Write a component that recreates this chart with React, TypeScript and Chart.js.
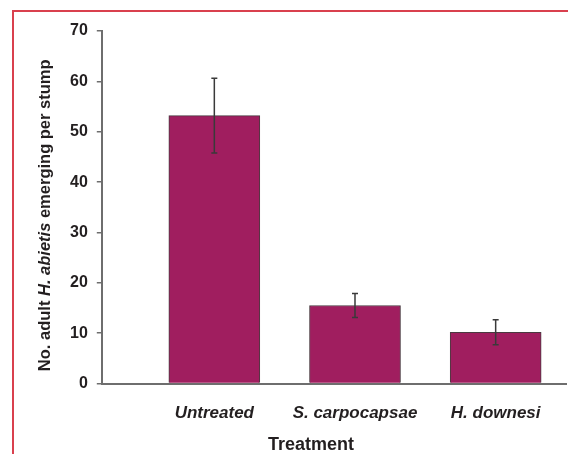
import React, { useEffect, useRef } from "react";
import { Chart, registerables } from "chart.js";

Chart.register(...registerables);

const categories = ["Untreated", "S. carpocapsae", "H. downesi"];
const means = [53.2, 15.5, 10.2];
const errors = [7.4, 2.4, 2.5];
const yTicks = [0, 10, 20, 30, 40, 50, 60, 70];
const xTitle = "Treatment";
const yTitleParts: [string, boolean][] = [
  ["No. adult ", false],
  ["H. abietis", true],
  [" emerging per stump", false],
];

const FONT = "'Liberation Sans', Arial, Helvetica, sans-serif";
const TEXT = "#231f20";
const AXIS = "#6e6e6e";
const BAR = "#a01e5f";

const errorBarPlugin = {
  id: "errorBars",
  afterDatasetsDraw(chart: any) {
    const meta = chart.getDatasetMeta(0);
    const ys = chart.scales.y;
    const ctx = chart.ctx;
    ctx.save();
    ctx.strokeStyle = "#3a3a3a";
    ctx.lineWidth = 1.5;
    meta.data.forEach((el: any, i: number) => {
      const x = el.x;
      const top = ys.getPixelForValue(means[i] + errors[i]);
      const bot = ys.getPixelForValue(means[i] - errors[i]);
      ctx.beginPath();
      ctx.moveTo(x, top);
      ctx.lineTo(x, bot);
      ctx.moveTo(x - 3, top);
      ctx.lineTo(x + 3, top);
      ctx.moveTo(x - 3, bot);
      ctx.lineTo(x + 3, bot);
      ctx.stroke();
    });
    ctx.restore();
  },
};

const titlesPlugin = {
  id: "axisTitles",
  afterDraw(chart: any) {
    const ctx = chart.ctx;
    const area = chart.chartArea;
    ctx.save();
    ctx.fillStyle = TEXT;
    // x title
    ctx.font = `bold 18px ${FONT}`;
    ctx.textAlign = "center";
    ctx.textBaseline = "middle";
    ctx.fillText(xTitle, 311, 445);
    // y title, mixed styles
    const size = 16.5;
    const fontFor = (it: boolean) => `${it ? "italic " : ""}bold ${size}px ${FONT}`;
    let total = 0;
    yTitleParts.forEach(([t, it]) => {
      ctx.font = fontFor(it);
      total += ctx.measureText(t).width;
    });
    const cy = (area.top + area.bottom) / 2 + 8;
    ctx.translate(45, cy);
    ctx.rotate(-Math.PI / 2);
    ctx.textAlign = "left";
    let x = -total / 2;
    yTitleParts.forEach(([t, it]) => {
      ctx.font = fontFor(it);
      ctx.fillText(t, x, 0);
      x += ctx.measureText(t).width;
    });
    ctx.restore();
  },
};

export default function App() {
  const ref = useRef<HTMLCanvasElement>(null);
  useEffect(() => {
    if (!ref.current) return;
    const chart = new Chart(ref.current, {
      type: "bar",
      data: {
        datasets: [
          {
            data: categories.map((_, i) => ({ x: i + 1, y: means[i] })),
            backgroundColor: BAR,
            borderColor: "#4a3a40",
            borderWidth: 1,
            barThickness: 91,
          },
        ],
      },
      options: {
        animation: false,
        responsive: false,
        layout: { padding: { left: 61, right: 2, top: 31, bottom: 10 } },
        plugins: { legend: { display: false }, tooltip: { enabled: false } },
        scales: {
          x: {
            type: "linear",
            offset: false,
            min: 0.2,
            max: 3.5,
            afterBuildTicks: (scale: any) => {
              scale.ticks = categories.map((_, i) => ({ value: i + 1 }));
            },
            grid: { display: true, drawOnChartArea: false, drawTicks: false, offset: false },
            border: { display: true, color: AXIS, width: 2 },
            ticks: {
              autoSkip: false,
              maxRotation: 0,
              padding: 20,
              color: TEXT,
              font: { family: FONT, size: 17, weight: "bold", style: "italic" },
              callback: (v: any) => categories[Math.round(v) - 1] ?? "",
            },
          },
          y: {
            min: 0,
            max: 70,
            afterBuildTicks: (scale: any) => {
              scale.ticks = yTicks.map((v) => ({ value: v }));
            },
            grid: {
              display: true,
              drawOnChartArea: false,
              drawTicks: true,
              tickLength: 5,
              color: AXIS,
              lineWidth: 1.5,
            },
            border: { display: true, color: AXIS, width: 2 },
            ticks: {
              padding: 9,
              color: TEXT,
              font: { family: FONT, size: 16, weight: "bold" },
            },
          },
        },
      },
      plugins: [errorBarPlugin, titlesPlugin],
    } as any);
    return () => chart.destroy();
  }, []);

  return (
    <div style={{ position: "fixed", left: 0, top: 0, width: 568, height: 454, overflow: "hidden", background: "#fff" }}>
      <div
        style={{
          position: "absolute",
          left: 12,
          top: 10,
          width: 700,
          height: 600,
          borderTop: "2px solid #d9404e",
          borderLeft: "2px solid #d9404e",
        }}
      />
      <canvas ref={ref} width={568} height={454} style={{ position: "absolute", left: 0, top: 0 }} />
    </div>
  );
}
